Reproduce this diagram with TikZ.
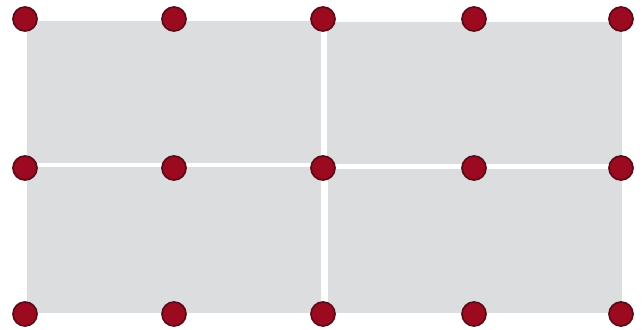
\documentclass[tikz,border=0pt]{standalone}
\usetikzlibrary{positioning}
\definecolor{panelgray}{HTML}{DCDDDF}
\definecolor{dotred}{HTML}{9C0A1F}
\definecolor{dotedge}{HTML}{5A0A18}
\tikzset{
  panel/.style={fill=panelgray, draw=none},
  dot/.style={circle, fill=dotred, draw=dotedge, line width=1.7pt, minimum size=24pt, inner sep=0pt}
}
\begin{document}
\begin{tikzpicture}[x=1pt, y=-1pt]
  \useasboundingbox (0,0) rectangle (644,329);
  % panels
  \fill[panel] (27,21) rectangle (321,163);
  \fill[panel] (327,22) rectangle (622,164);
  \fill[panel] (27,167) rectangle (321,313);
  \fill[panel] (328,169) rectangle (622,313);
  % dots
  \foreach \r/\y in {0/19, 1/168, 2/314} {
    \foreach \c/\x in {0/25, 1/174, 2/323, 3/474, 4/621} {
      \node[dot] (d\r\c) at (\x,\y) {};
    }
  }
\end{tikzpicture}
\end{document}
